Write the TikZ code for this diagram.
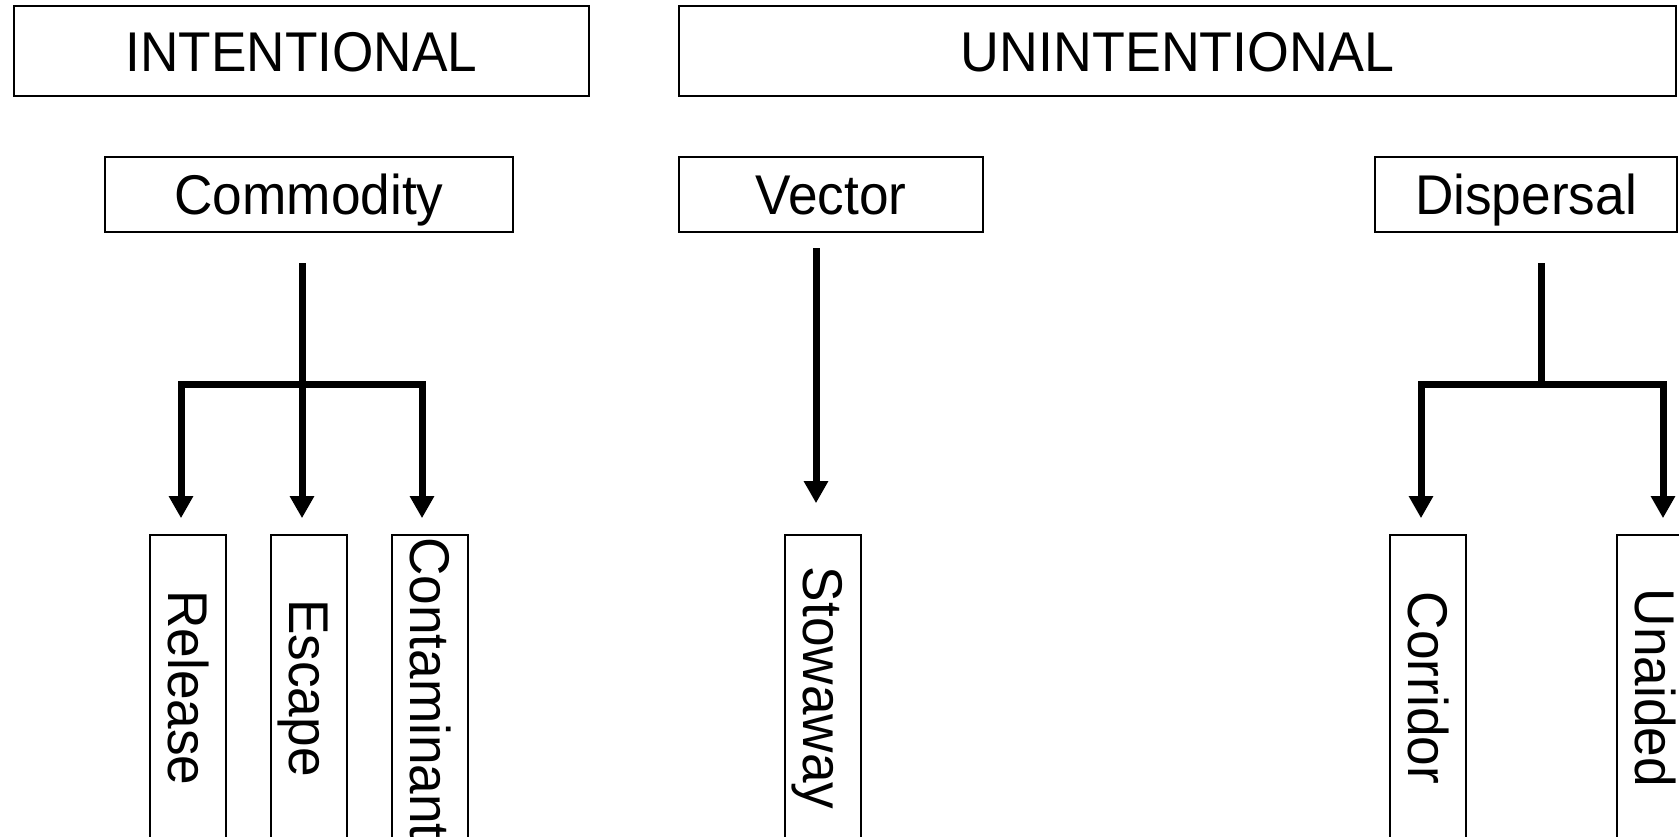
\documentclass[tikz,border=0pt]{standalone}
\usepackage{fontspec}
\setmainfont{Liberation Sans}
\usetikzlibrary{arrows.meta}
\newcommand\nx[1]{\scalebox{0.95}[1]{#1}}
\begin{document}
\begin{tikzpicture}[x=1pt,y=-1pt,
  box/.style={draw, line width=1.6pt, inner sep=0pt, text height=40pt, text depth=0pt, font=\fontsize{56}{60}\selectfont},
  vbox/.style={box, rotate=-90, minimum width=306pt, minimum height=76pt},
  link/.style={line width=7pt},
  conn/.style={link, -{Triangle[length=22pt,width=23pt]}, shorten >=16pt}]
\useasboundingbox (0,0) rectangle (1679,836);
\clip (0,0) rectangle (1679,836);
\fill[white] (0,0) rectangle (1679,836);
% top level
\node[box, minimum width=575pt, minimum height=90pt] (int) at (301.5,51) {\nx{INTENTIONAL}};
\node[box, minimum width=997pt, minimum height=90pt] (unint) at (1177.5,51) {\scalebox{0.96}[1]{UNINTENTIONAL}};
% second level
\node[box, minimum width=408pt, minimum height=75pt] (comm) at (309,194.5) {\nx{Commodity}};
\node[box, minimum width=304pt, minimum height=75pt] (vec) at (831,194.5) {\nx{Vector}};
\node[box, minimum width=302pt, minimum height=75pt] (disp) at (1526,194.5) {\nx{Dispersal}};
% leaves
\node[vbox] (rel) at (188,688) {\nx{Release}};
\node[vbox] (esc) at (309,688) {\nx{Escape}};
\node[vbox] (con) at (430,688) {\nx{Contaminant}};
\node[vbox] (sto) at (823,688) {\nx{Stowaway}};
\node[vbox] (cor) at (1428,688) {\nx{Corridor}};
\node[vbox] (una) at (1655,688) {\nx{Unaided}};
% connectors: Commodity
\coordinate (ctop) at (302,263);
\coordinate (cj) at (302,384);
\coordinate (cL) at (181,384);
\coordinate (cR) at (422,384);
\draw[conn] (ctop) -- (ctop |- esc.west);
\draw[conn] (cj) -- (cL) -- (cL |- rel.west);
\draw[conn] (cj) -- (cR) -- (cR |- con.west);
% Vector
\coordinate (vtop) at (816,248);
\draw[conn, shorten >=31pt] (vtop) -- (vtop |- sto.west);
% Dispersal
\coordinate (dtop) at (1541,263);
\coordinate (dj) at (1541,384);
\coordinate (dL) at (1421,384);
\coordinate (dR) at (1663,384);
\draw[link] (dtop) -- (dj);
\draw[conn] (dj) -- (dL) -- (dL |- cor.west);
\draw[conn] (dj) -- (dR) -- (dR |- una.west);
\end{tikzpicture}
\end{document}
